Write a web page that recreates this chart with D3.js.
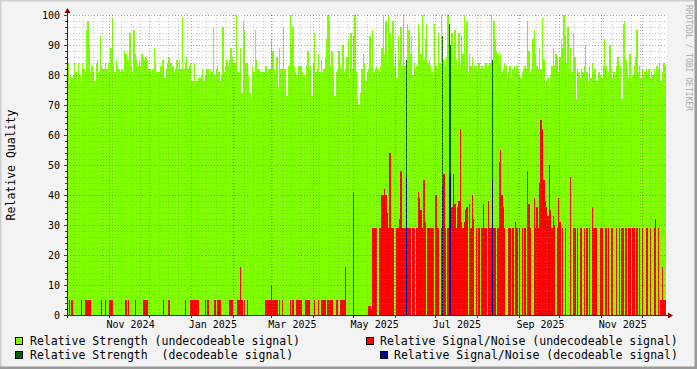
<!DOCTYPE html>
<html>
<head>
<meta charset="utf-8">
<script src="https://cdn.jsdelivr.net/npm/d3@7"></script>
<style>
  body { margin: 0; background: #f3f3f3; }
  text { font-family: "DejaVu Sans Mono", monospace; }
</style>
</head>
<body>
<svg id="chart" width="697" height="369"></svg>
<script>
// daily values, first entry = 2024-10-01
const firstDay = "2024-10-01";

// relative strength, undecodeable signal (null = day was decodeable)
const strengthUndecodeable = [
  84,77,80,79,80,84,81,78,84,80,78,84,82,81,95,98,90,81,83,81,
  78,84,85,81,93,83,82,82,84,82,84,81,89,99,83,81,85,83,82,81,
  82,81,88,87,85,85,94,83,81,95,87,85,83,85,83,87,86,85,86,85,
  82,82,80,82,89,84,81,81,81,83,85,85,79,82,84,86,84,84,83,81,
  82,85,82,85,82,99,82,84,86,82,83,84,78,78,84,78,78,79,79,80,
  82,78,80,82,82,80,82,81,96,80,82,83,81,78,80,96,81,83,85,83,
  85,89,86,84,84,100,81,81,89,74,98,95,84,84,80,74,72,83,81,95,
  85,82,82,81,81,81,81,83,81,82,82,92,88,82,80,86,76,89,82,82,
  96,82,73,73,83,100,89,96,83,81,80,83,83,83,81,80,74,83,88,82,
  83,73,84,94,81,82,87,81,85,81,82,86,92,100,98,83,88,82,73,81,
  82,88,83,82,90,81,82,86,92,79,94,82,93,100,81,72,70,74,82,87,
  84,78,81,82,93,83,95,81,82,83,82,81,83,89,100,87,98,83,100,94,
  89,98,83,87,79,93,85,96,83,100,83,null,97,95,87,93,80,84,82,83,
  97,94,87,100,85,92,97,84,85,83,81,79,97,83,82,94,84,100,null,85,
  83,86,100,null,null,94,83,95,85,82,94,83,93,87,100,83,98,81,87,83,
  86,82,83,83,81,84,82,83,82,83,84,82,83,84,100,null,98,92,88,87,
  84,87,81,82,84,83,79,81,83,79,82,83,81,83,82,80,79,81,82,83,
  82,98,88,81,82,92,95,87,83,82,89,82,99,85,78,78,79,76,80,83,
  89,83,87,86,81,86,92,89,100,93,84,96,82,89,81,94,86,72,82,81,
  79,82,81,83,90,81,78,83,79,84,81,82,78,78,81,80,79,83,92,83,
  79,81,90,82,79,81,80,83,86,79,83,72,97,98,85,82,79,87,78,80,
  83,86,95,81,83,79,82,80,81,82,80,82,79,81,80,82,78,83,82,84,
  78,81,84,83
];

// relative signal/noise, undecodeable signal (0 = nothing)
const snrUndecodeable = [
  0,5,0,5,0,0,0,0,0,0,5,0,0,5,5,5,5,5,0,0,
  0,0,0,0,0,5,0,0,5,0,0,5,5,5,0,0,0,0,0,0,
  0,0,0,5,0,5,0,0,0,0,5,0,0,0,0,0,5,5,5,5,
  0,0,0,0,0,0,0,0,0,0,0,5,0,0,0,5,0,0,0,0,
  0,0,0,0,0,0,0,5,0,0,0,5,5,5,5,5,5,5,0,0,
  0,0,5,0,5,0,0,0,0,5,0,5,5,5,0,0,0,0,0,0,
  5,5,5,0,0,0,5,5,16,5,0,5,0,5,0,0,0,0,0,0,
  0,0,0,0,0,0,0,5,5,5,5,10,5,5,5,5,0,5,0,5,
  0,0,0,0,0,5,0,5,0,0,5,5,5,5,0,0,5,5,5,5,
  0,0,0,5,0,0,5,0,5,5,5,5,0,5,5,5,5,0,0,5,
  5,0,5,5,5,5,16,0,0,0,0,0,41,0,0,0,0,0,0,0,
  0,0,0,3,3,2,29,29,29,29,0,29,29,40,40,42,40,34,29,54,
  29,29,0,0,29,29,32,48,29,29,29,0,29,29,29,0,29,29,0,29,
  41,39,35,29,45,31,0,29,29,29,29,29,0,40,29,29,0,29,0,47,
  29,0,29,0,0,36,47,37,29,36,38,62,31,29,31,35,36,0,37,29,
  40,32,0,29,0,29,0,29,37,29,29,0,38,29,29,0,29,29,0,29,
  51,55,40,36,29,0,0,29,29,0,29,0,31,29,0,29,0,29,0,29,
  0,48,37,29,0,0,39,29,36,29,44,65,62,45,38,36,33,50,35,29,
  33,30,0,29,39,31,0,29,0,29,0,0,0,46,0,29,29,0,29,0,
  29,29,0,29,0,29,0,29,0,36,29,29,29,0,0,29,29,0,0,29,
  0,29,0,29,29,0,0,29,0,29,0,29,29,0,29,0,29,29,0,29,
  29,0,29,0,29,0,29,0,0,29,29,0,29,0,0,29,32,0,29,0,
  5,16,5,5
];

// the few decodeable days
const decodeDates = ["2025-06-09", "2025-07-06", "2025-07-11", "2025-07-12", "2025-08-12"];
const strengthDecodeable = [85, 93, 97, 90, 85];
const snrDecodeable = [46, 43, 46, 47, 45];

const yTicks = d3.range(0, 101, 10);
const labelMonths = ["2024-11", "2025-01", "2025-03", "2025-05", "2025-07", "2025-09", "2025-11"];

const legendItems = [
  {label: "Relative Strength (undecodeable signal)", color: "#7fff00", bx: 15, by: 337, tx: 30},
  {label: "Relative Strength  (decodeable signal)", color: "#006400", bx: 15, by: 351, tx: 30},
  {label: "Relative Signal/Noise (undecodeable signal)", color: "#ff0000", bx: 366, by: 337, tx: 380},
  {label: "Relative Signal/Noise (decodeable signal)", color: "#000099", bx: 380, by: 351, tx: 394}
];

var W = 697, H = 369;
var L = 67, R = 667, T = 15, B = 315;
var DAY = 864e5;

var svg = d3.select("#chart");
var parseDay = d3.utcParse("%Y-%m-%d");
var t0 = parseDay(firstDay);

var x = d3.scaleUtc()
  .domain([new Date(Date.UTC(2024, 8, 30, 20)), new Date(Date.UTC(2024, 8, 30, 20) + 445 * DAY)])
  .range([L, R]);
var y = d3.scaleLinear().domain([0, 100]).range([B, T]);

function dayStart(i) { return new Date(+t0 + i * DAY); }

// background + shading
svg.append("rect").attr("width", W).attr("height", H).attr("fill", "#f3f3f3");
svg.append("rect").attr("x", 0).attr("y", 0).attr("width", W).attr("height", 1.5).attr("fill", "#cfcfcf");
svg.append("rect").attr("x", 0).attr("y", 0).attr("width", 1.5).attr("height", H).attr("fill", "#cfcfcf");
svg.append("rect").attr("x", W - 2.5).attr("y", 0).attr("width", 2.5).attr("height", H).attr("fill", "#9a9a9a");
svg.append("rect").attr("x", 0).attr("y", H - 2.5).attr("width", W).attr("height", 2.5).attr("fill", "#9a9a9a");

// canvas
svg.append("rect").attr("x", L).attr("y", T).attr("width", R - L).attr("height", B - T).attr("fill", "#ffffff");

var plot = svg.append("g").attr("shape-rendering", "crispEdges");

function drawBars(values, dates, color) {
  plot.append("g")
    .selectAll("rect")
    .data(values.map(function(v, i) { return {v: v, d: dates[i]}; }).filter(function(d) { return d.v; }))
    .enter().append("rect")
    .attr("x", function(d) { return x(d.d); })
    .attr("width", function(d) { return x(new Date(+d.d + DAY)) - x(d.d); })
    .attr("y", function(d) { return y(d.v); })
    .attr("height", function(d) { return B - y(d.v); })
    .attr("fill", color);
}

var allDays = strengthUndecodeable.map(function(v, i) { return dayStart(i); });
var decDays = decodeDates.map(parseDay);

drawBars(strengthUndecodeable, allDays, "#7fff00");
drawBars(strengthDecodeable, decDays, "#006400");
drawBars(snrUndecodeable, allDays, "#ff0000");
drawBars(snrDecodeable, decDays, "#000099");

// grid (drawn over the data like rrdtool does)
var grid = svg.append("g");
var minorCol = "rgba(140,140,140,0.45)", majorCol = "rgba(170,40,40,0.45)";

d3.range(0, 101, 2).forEach(function(v) {
  if (v === 0) return;
  grid.append("line")
    .attr("x1", L).attr("x2", R)
    .attr("y1", Math.round(y(v)) + 0.5).attr("y2", Math.round(y(v)) + 0.5)
    .attr("stroke", v % 10 === 0 ? majorCol : minorCol)
    .attr("stroke-dasharray", "1,2");
});

var weeks = d3.utcSunday.range(x.domain()[0], x.domain()[1]);
var months = d3.utcMonth.range(x.domain()[0], x.domain()[1]);
weeks.forEach(function(d) {
  if (d.getUTCDate() === 1) return;
  var px = Math.round(x(d)) + 0.5;
  grid.append("line")
    .attr("x1", px).attr("x2", px).attr("y1", T).attr("y2", B)
    .attr("stroke", minorCol).attr("stroke-dasharray", "1,2");
});
months.forEach(function(d) {
  var px = Math.round(x(d)) + 0.5;
  grid.append("line")
    .attr("x1", px).attr("x2", px).attr("y1", T).attr("y2", B)
    .attr("stroke", majorCol).attr("stroke-dasharray", "1,2");
  grid.append("line")
    .attr("x1", px).attr("x2", px).attr("y1", B).attr("y2", B + 3)
    .attr("stroke", "#404040");
});

// y ticks on the axis
d3.range(0, 101, 2).forEach(function(v) {
  var py = Math.round(y(v)) + 0.5;
  grid.append("line")
    .attr("x1", L - (v % 10 === 0 ? 3 : 2)).attr("x2", L)
    .attr("y1", py).attr("y2", py)
    .attr("stroke", "#404040");
});

// axes + arrows
svg.append("line").attr("x1", L - 3).attr("x2", R + 3).attr("y1", B + 0.5).attr("y2", B + 0.5).attr("stroke", "#303030");
svg.append("line").attr("x1", L + 0.5).attr("x2", L + 0.5).attr("y1", B + 3).attr("y2", T - 4).attr("stroke", "#303030");
svg.append("path").attr("d", "M" + (R + 1) + "," + (B - 2.5) + "L" + (R + 6) + "," + (B + 0.5) + "L" + (R + 1) + "," + (B + 3.5) + "Z").attr("fill", "#8b0000");
svg.append("path").attr("d", "M" + (L - 2.5) + "," + (T - 2) + "L" + (L + 0.5) + "," + (T - 7) + "L" + (L + 3.5) + "," + (T - 2) + "Z").attr("fill", "#8b0000");

// y labels
svg.append("g").selectAll("text")
  .data(yTicks)
  .enter().append("text")
  .attr("x", 60)
  .attr("y", function(d) { return y(d); })
  .attr("dy", "0.36em")
  .attr("text-anchor", "end")
  .attr("font-size", 10)
  .attr("fill", "#000")
  .text(function(d) { return d; });

// x labels (centred half a month in)
var fmt = d3.utcFormat("%b %Y");
svg.append("g").selectAll("text")
  .data(labelMonths.map(d3.utcParse("%Y-%m")))
  .enter().append("text")
  .attr("x", function(d) { return x(new Date(+d + 16 * DAY)); })
  .attr("y", 328)
  .attr("text-anchor", "middle")
  .attr("font-size", 10)
  .attr("fill", "#000")
  .text(fmt);

// unit label
svg.append("text")
  .attr("transform", "translate(15,165) rotate(-90)")
  .attr("text-anchor", "middle")
  .attr("font-size", 11.5)
  .attr("fill", "#000")
  .text("Relative Quality");

// watermark
svg.append("text")
  .attr("transform", "translate(686,5) rotate(90)")
  .attr("font-size", 8)
  .attr("fill", "#aaaaaa")
  .text("RRDTOOL / TOBI OETIKER");

// legend
var leg = svg.append("g").selectAll("g").data(legendItems).enter().append("g");
leg.append("rect")
  .attr("x", function(d) { return d.bx + 0.5; })
  .attr("y", function(d) { return d.by + 0.5; })
  .attr("width", 7).attr("height", 7)
  .attr("fill", function(d) { return d.color; })
  .attr("stroke", "#000");
leg.append("text")
  .attr("x", function(d) { return d.tx; })
  .attr("y", function(d) { return d.by + 8; })
  .attr("font-size", 11.5)
  .attr("fill", "#000")
  .attr("xml:space", "preserve")
  .style("white-space", "pre")
  .text(function(d) { return d.label; });
</script>
</body>
</html>
